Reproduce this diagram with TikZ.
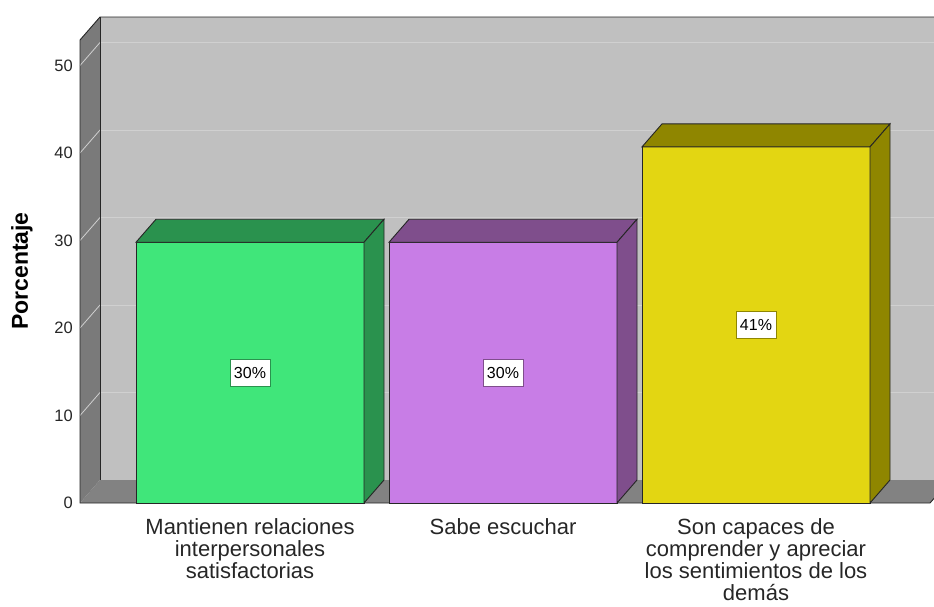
\documentclass[tikz,border=0pt]{standalone}
\usepackage{fontspec}
\setmainfont{Liberation Sans}

\definecolor{wallback}{RGB}{192,192,192}
\definecolor{wallleft}{RGB}{122,122,122}
\definecolor{wallfloor}{RGB}{130,130,130}
\definecolor{gridcol}{RGB}{208,208,208}
\definecolor{textcol}{RGB}{38,38,38}
\definecolor{greenfront}{RGB}{64,230,122}
\definecolor{greendark}{RGB}{42,146,78}
\definecolor{purplefront}{RGB}{200,125,230}
\definecolor{purpledark}{RGB}{127,78,140}
\definecolor{yellowfront}{RGB}{227,214,18}
\definecolor{yellowdark}{RGB}{143,134,0}

\tikzset{
  edge/.style={draw=black!85, line width=0.9pt},
  ticklab/.style={anchor=east, inner sep=0pt, text=textcol, font=\fontsize{16.5}{18}\selectfont},
  vallab/.style={fill=white, line width=1pt, minimum width=40pt, minimum height=27pt, inner sep=1pt, text=black, font=\fontsize{16}{18}\selectfont},
  catlab/.style={anchor=north, align=center, inner sep=0pt, text=textcol, font=\fontsize{22}{21.8}\selectfont}
}

\begin{document}
\begin{tikzpicture}[x=1pt, y=-1pt]

\useasboundingbox (0,0) rectangle (934,606);

% box: back wall, floor and left wall (cut at the right border)
\begin{scope}
\clip (0,0) rectangle (934,606);
\fill[wallback] (100,17) rectangle (960,480);
\foreach \v in {10,20,...,50}{
  \pgfmathsetmacro{\yb}{480-8.75*\v}
  \draw[gridcol, line width=1pt] (100,\yb) -- (960,\yb);
}
\fill[wallfloor] (80,503) -- (930,503) -- (950,480) -- (100,480) -- cycle;
\fill[wallleft] (80,40) -- (100,17) -- (100,480) -- (80,503) -- cycle;
\foreach \v in {10,20,...,50}{
  \pgfmathsetmacro{\yb}{480-8.75*\v}
  \draw[gridcol, line width=0.8pt] (80,\yb+23) -- (100,\yb);
}
\draw[edge] (960,17) -- (100,17) -- (80,40) -- (80,503) -- (930,503) -- (950,480);
\draw[edge] (100,17) -- (100,480);
\end{scope}

% axis
\foreach \v in {0,10,...,50}{
  \node[ticklab] (tick\v) at (73,{503-8.75*\v}) {\v};
}
\node[rotate=90, inner sep=0pt, font=\bfseries\fontsize{23}{25}\selectfont] (ylab) at (22,271) {Porcentaje};

% bars: name / left edge / value / colours / label / category
\foreach \name/\xl/\val/\fc/\dc/\lab/\cat in {
    ma/136/29.8/greenfront/greendark/30\%/{Mantienen relaciones\\interpersonales\\satisfactorias},
    se/389/29.8/purplefront/purpledark/30\%/{Sabe escuchar},
    sc/642/40.7/yellowfront/yellowdark/41\%/{Son capaces de\\comprender y apreciar\\los sentimientos de los\\demás}}{

  \pgfmathsetmacro{\yt}{503-8.75*\val}
  \pgfmathsetmacro{\xr}{\xl+228}
  \pgfmathsetmacro{\xm}{\xl+114}

  \filldraw[edge, fill=\fc] (\xl,503) rectangle (\xr,\yt);
  \filldraw[edge, fill=\dc] (\xl,\yt) -- (\xl+20,\yt-23) -- (\xr+20,\yt-23) -- (\xr,\yt) -- cycle;
  \filldraw[edge, fill=\dc] (\xr,\yt) -- (\xr+20,\yt-23) -- (\xr+20,480) -- (\xr,503) -- cycle;

  \node[vallab, draw=\dc] (val\name) at (\xm,{(503+\yt)/2}) {\lab};
  \node[catlab] (cat\name) at (\xm,518.5) {\cat};
}

\end{tikzpicture}
\end{document}
